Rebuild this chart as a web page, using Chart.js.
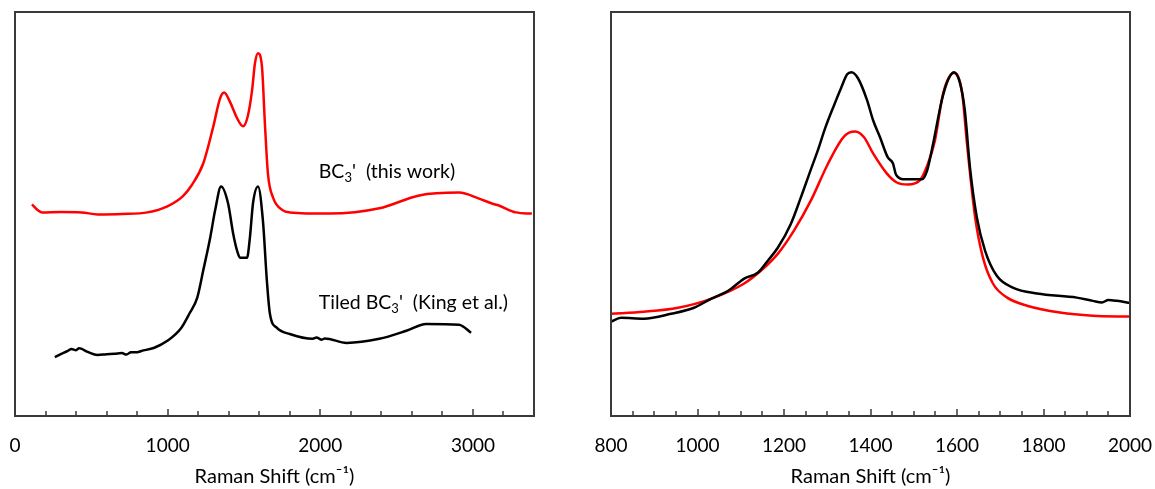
<!DOCTYPE html>
<html>
<head>
<meta charset="utf-8">
<script src="https://cdn.jsdelivr.net/npm/chart.js@4.4.0/dist/chart.umd.min.js"></script>
<style>
  html, body { margin: 0; padding: 0; background: #fff; }
  #wrap { position: relative; width: 1155px; height: 489px; }
  .panel { position: absolute; top: 0; height: 489px; }
  #left { left: 0; width: 560px; }
  #right { left: 580px; width: 575px; }
</style>
</head>
<body>
<div id="wrap">
  <div class="panel" id="left"><canvas id="leftChart"></canvas></div>
  <div class="panel" id="right"><canvas id="rightChart"></canvas></div>
</div>
<script>
// Painel esquerdo: espectro completo (intensidade em unidades arbitrárias)
const leftRedShift = [111, 150, 176, 300, 437, 541, 700, 868, 998, 1102, 1155, 1233, 1298, 1344, 1370, 1409, 1455, 1494, 1526, 1553, 1572, 1592, 1618, 1637, 1657, 1690, 1755, 1800, 2061, 2387, 2648, 2909, 3040, 3125, 3170, 3281, 3386];
const leftRedIntensity = [52.4, 50.9, 50.4, 50.5, 50.4, 49.9, 50.0, 50.4, 51.9, 54.5, 57.0, 62.5, 71.5, 78.7, 80.1, 77.7, 73.7, 71.7, 74.4, 80.6, 87.3, 89.8, 86.4, 72.5, 60.0, 54.1, 50.9, 50.4, 50.1, 51.4, 54.6, 55.3, 53.8, 52.6, 52.1, 50.4, 50.1];

const leftBlackShift = [261, 300, 346, 370, 400, 420, 437, 480, 541, 600, 652, 700, 730, 760, 800, 828, 913, 998, 1089, 1142, 1194, 1233, 1279, 1311, 1350, 1396, 1429, 1455, 1474, 1520, 1539, 1559, 1592, 1624, 1650, 1670, 1716, 1800, 1950, 1975, 2010, 2030, 2172, 2387, 2564, 2694, 2909, 2988];
const leftBlackIntensity = [14.6, 15.3, 16.1, 16.6, 16.3, 16.8, 16.6, 15.8, 15.1, 15.3, 15.4, 15.6, 15.2, 15.8, 15.8, 16.1, 16.9, 18.6, 21.8, 25.3, 29.3, 36.0, 44.2, 50.9, 56.8, 52.6, 45.2, 40.9, 39.2, 39.2, 44.2, 52.6, 56.8, 48.4, 33.5, 25.3, 21.8, 20.3, 19.1, 19.4, 18.9, 19.2, 18.1, 19.1, 21.1, 22.8, 22.6, 20.6];

// Painel direito: detalhe das bandas D e G
const rightRedShift = [800, 876, 955, 1031, 1108, 1147, 1186, 1223, 1262, 1302, 1339, 1364, 1385, 1406, 1438, 1461, 1487, 1514, 1533, 1549, 1568, 1593, 1612, 1623, 1642, 1660, 1683, 1716, 1762, 1838, 1914, 2000];
const rightRedIntensity = [25.3, 25.8, 26.8, 29.0, 32.8, 36.0, 40.2, 45.9, 53.3, 62.5, 69.2, 70.4, 69.0, 65.0, 60.0, 57.8, 57.3, 58.3, 62.5, 68.2, 79.9, 84.9, 79.9, 67.5, 49.1, 39.2, 32.8, 29.3, 27.3, 25.6, 24.8, 24.6];

const rightBlackShift = [800, 823, 876, 939, 992, 1031, 1071, 1108, 1140, 1163, 1186, 1216, 1239, 1262, 1279, 1295, 1316, 1332, 1346, 1356, 1371, 1392, 1406, 1422, 1440, 1452, 1458, 1464, 1475, 1519, 1531, 1545, 1565, 1579, 1593, 1607, 1618, 1630, 1646, 1665, 1692, 1729, 1785, 1877, 1914, 1935, 1950, 1970, 2000];
const rightBlackIntensity = [23.3, 24.3, 24.1, 25.3, 26.8, 29.0, 31.0, 34.0, 35.5, 38.5, 41.7, 47.6, 54.1, 61.0, 66.0, 71.2, 77.0, 81.2, 84.6, 85.1, 83.6, 78.2, 73.2, 69.0, 64.0, 62.5, 60.0, 59.1, 58.6, 58.6, 60.8, 67.5, 78.2, 83.1, 85.1, 82.4, 75.7, 61.5, 49.1, 40.9, 34.7, 31.8, 30.3, 29.3, 28.5, 28.1, 28.7, 28.5, 28.0];

const FONT = 'Lato, "Open Sans", sans-serif';
const RED = '#ff0000';
const BLACK = '#000000';

function toPoints(xs, ys) {
    return xs.map((x, i) => ({ x: x, y: ys[i] }));
}

function lineDataset(xs, ys, color) {
    return {
        data: toPoints(xs, ys),
        borderColor: color,
        borderWidth: 2.5,
        pointRadius: 0,
        fill: false,
        cubicInterpolationMode: 'monotone',
        tension: 0.4
    };
}

// Moldura, ticks para dentro e rótulos das curvas
const frameTicks = {
    id: 'frameTicks',
    afterDatasetsDraw(chart, args, opts) {
        const { ctx, chartArea: a, scales: { x, y } } = chart;
        ctx.save();
        ctx.strokeStyle = '#3a3a3a';
        ctx.lineWidth = 2;
        ctx.strokeRect(a.left, a.top, a.right - a.left, a.bottom - a.top);
        ctx.lineWidth = 1.5;
        x.ticks.forEach(t => {
            if (t.value <= x.min || t.value >= x.max) return;
            const px = Math.round(x.getPixelForValue(t.value));
            const len = t.value % opts.major === 0 ? 7 : 5;
            ctx.beginPath();
            ctx.moveTo(px, a.bottom);
            ctx.lineTo(px, a.bottom - len);
            ctx.stroke();
        });

        (opts.labels || []).forEach(lab => {
            let px = x.getPixelForValue(lab.x);
            const py = y.getPixelForValue(lab.y);
            ctx.fillStyle = '#000';
            ctx.textBaseline = 'alphabetic';
            ctx.textAlign = 'left';
            lab.parts.forEach(([txt, sub]) => {
                ctx.font = (sub ? '13px ' : '19.5px ') + FONT;
                ctx.fillText(txt, px, sub ? py + 4 : py);
                px += ctx.measureText(txt).width;
            });
        });
        ctx.restore();
    }
};

function xAxis(min, max, step, major) {
    return {
        type: 'linear',
        min: min,
        max: max,
        border: { display: false },
        grid: { display: false, drawTicks: false },
        ticks: {
            stepSize: step,
            autoSkip: false,
            maxRotation: 0,
            padding: 18,
            color: '#000',
            font: { family: FONT, size: 19 },
            callback: v => v % major === 0 ? String(v) : ''
        },
        title: {
            display: true,
            text: 'Raman Shift (cm⁻¹)',
            color: '#000',
            font: { family: FONT, size: 20 },
            padding: { top: 4, bottom: 0 }
        },
        afterFit: s => {
            s.height = 73;
            s.paddingLeft = 0;
            s.paddingRight = 0;
        }
    };
}

function makeChart(id, datasets, xmin, xmax, step, major, padding, labels) {
    const ctx = document.getElementById(id).getContext('2d');
    return new Chart(ctx, {
        type: 'line',
        data: { datasets: datasets },
        options: {
            responsive: true,
            maintainAspectRatio: false,
            animation: false,
            layout: { padding: padding },
            plugins: {
                legend: { display: false },
                tooltip: { enabled: false },
                frameTicks: { major: major, labels: labels }
            },
            scales: {
                x: xAxis(xmin, xmax, step, major),
                y: { type: 'linear', min: 0, max: 100, display: false }
            }
        },
        plugins: [frameTicks]
    });
}

makeChart('leftChart', [
    lineDataset(leftRedShift, leftRedIntensity, RED),
    lineDataset(leftBlackShift, leftBlackIntensity, BLACK)
], 0, 3400, 200, 1000, { top: 12, bottom: 0, left: 15, right: 26 }, [
    { x: 1990, y: 59, parts: [['BC', 0], ['3', 1], ["'  (this work)", 0]] },
    { x: 1990, y: 26.5, parts: [['Tiled BC', 0], ['3', 1], ["'  (King et al.)", 0]] }
]);

makeChart('rightChart', [
    lineDataset(rightBlackShift, rightBlackIntensity, BLACK),
    lineDataset(rightRedShift, rightRedIntensity, RED)
], 800, 2000, 50, 200, { top: 12, bottom: 0, left: 31, right: 25 }, []);
</script>
</body>
</html>
